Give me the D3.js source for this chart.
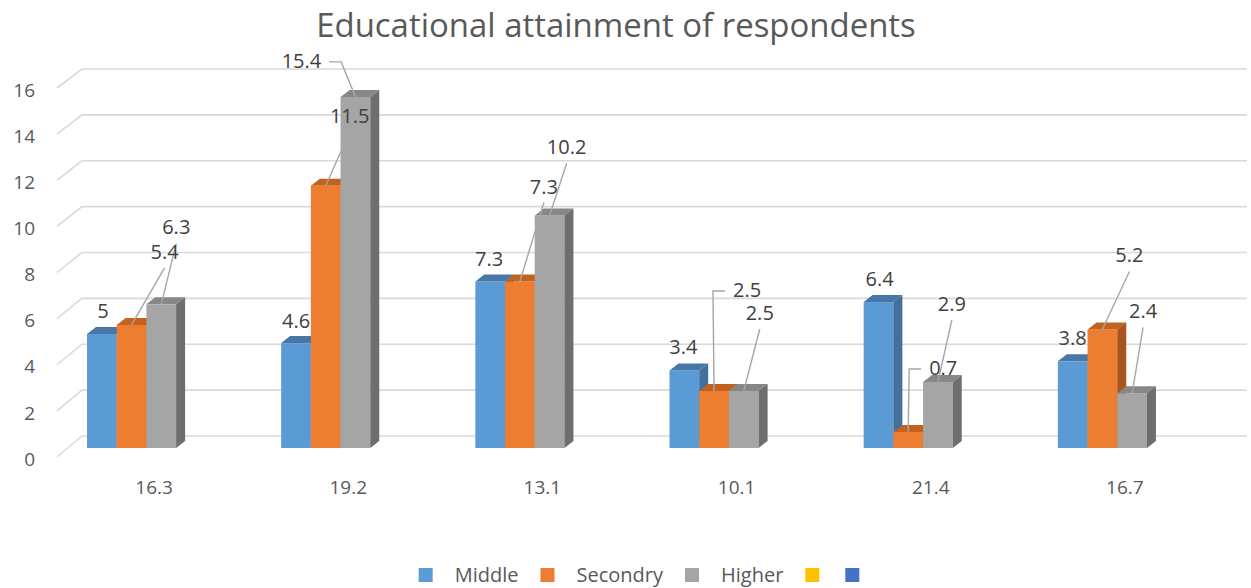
<!DOCTYPE html>
<html>
<head>
<meta charset="utf-8">
<script src="https://cdn.jsdelivr.net/npm/d3@7"></script>
<style>
  html, body { margin: 0; padding: 0; background: #ffffff; }
  svg { display: block; }
  text { font-family: "Open Sans", "Noto Sans", sans-serif; }
</style>
</head>
<body>
<svg id="chart" width="1251" height="588"></svg>
<script>
// ---- data ----
const categories = ["16.3", "19.2", "13.1", "10.1", "21.4", "16.7"];
const middle    = [5, 4.6, 7.3, 3.4, 6.4, 3.8];
const secondry  = [5.4, 11.5, 7.3, 2.5, 0.7, 5.2];
const higher    = [6.3, 15.4, 10.2, 2.5, 2.9, 2.4];
const yTicks    = [0, 2, 4, 6, 8, 10, 12, 14, 16];
const seriesNames = ["Middle", "Secondry", "Higher"];
const legendNames = ["Middle", "Secondry", "Higher", "", ""];
const titleText = "Educational attainment of respondents";

// ---- styling ----
const palette = {
  Middle:   { front: "#5b9bd5", top: "#4677a7", side: "#41719c" },
  Secondry: { front: "#ed7d31", top: "#c2621f", side: "#a8541c" },
  Higher:   { front: "#a5a5a5", top: "#878787", side: "#6e6e6e" }
};
const legendColors = ["#5b9bd5", "#ed7d31", "#a5a5a5", "#ffc000", "#4472c4"];

// label placement per series / category: offset from the bar's top-front centre
// and the kind of leader line connecting them
const labelLayout = {
  Middle: [
    { dx: 1, dy: -23, leader: "none" }, { dx: 0, dy: -22, leader: "none" },
    { dx: -1, dy: -23, leader: "none" }, { dx: -1, dy: -23, leader: "none" },
    { dx: 1, dy: -23, leader: "none" }, { dx: 0, dy: -23, leader: "none" }
  ],
  Secondry: [
    { dx: 33, dy: -73, leader: "line" }, { dx: 24, dy: -70, leader: "line" },
    { dx: 24, dy: -95, leader: "line" }, { dx: 33, dy: -101, leader: "elbow" },
    { dx: 35, dy: -64, leader: "elbow" }, { dx: 27, dy: -74, leader: "line" }
  ],
  Higher: [
    { dx: 15, dy: -77, leader: "line" }, { dx: -54, dy: -36, leader: "elbow" },
    { dx: 17, dy: -68, leader: "line" }, { dx: 16, dy: -78, leader: "line" },
    { dx: 14, dy: -78, leader: "line" }, { dx: 11, dy: -82, leader: "line" }
  ]
};

const seriesData = { Middle: middle, Secondry: secondry, Higher: higher };

const svg = d3.select("#chart");

// ---- scales ----
// category bands along the front edge of the floor
const x = d3.scaleBand().domain(categories).range([57, 1222]).paddingInner(0).paddingOuter(0);
// series inside a category
const xs = d3.scaleBand().domain(seriesNames).range([30, 30 + 3 * 29.7]).padding(0);
// value scales: bar plane, back wall, front edge of the side wall
const yBar   = d3.scaleLinear().domain([0, 16]).range([448, 83.2]);
const yBack  = d3.scaleLinear().domain([0, 16]).range([436, 69]);
const yFront = d3.scaleLinear().domain([0, 16]).range([457, 88]);

const wallLeftFront = 57, wallLeftBack = 82, wallRight = 1247;
const depthX = 9, depthY = 7;

// ---- gridlines (side wall + back wall) ----
const grid = svg.append("g").attr("class", "grid")
  .attr("stroke", "#d9d9d9").attr("stroke-width", 1.6).attr("fill", "none");
grid.selectAll("path").data(yTicks).join("path")
  .attr("d", v => `M${wallLeftFront},${yFront(v)}L${wallLeftBack},${yBack(v)}L${wallRight},${yBack(v)}`);

// ---- y tick labels ----
svg.append("g").selectAll("text").data(yTicks).join("text")
  .attr("x", 35).attr("y", v => yFront(v) + 2)
  .attr("dy", "0.35em")
  .attr("text-anchor", "end")
  .attr("font-size", 19)
  .attr("fill", "#595959")
  .text(v => v);

// ---- bars ----
const bars = svg.append("g").attr("class", "bars");
categories.forEach((cat, ci) => {
  seriesNames.forEach(s => {
    const v = seriesData[s][ci];
    const x0 = x(cat) + xs(s);
    const w = xs.bandwidth();
    const y0 = yBar(0), y1 = yBar(v);
    const c = palette[s];
    const g = bars.append("g");
    // front face
    g.append("rect").attr("x", x0).attr("y", y1).attr("width", w).attr("height", y0 - y1)
      .attr("fill", c.front);
    // top face
    g.append("path")
      .attr("d", `M${x0},${y1}L${x0 + w},${y1}L${x0 + w + depthX},${y1 - depthY}L${x0 + depthX},${y1 - depthY}Z`)
      .attr("fill", c.top);
    // side face
    g.append("path")
      .attr("d", `M${x0 + w},${y1}L${x0 + w + depthX},${y1 - depthY}L${x0 + w + depthX},${y0 - depthY}L${x0 + w},${y0}Z`)
      .attr("fill", c.side);
  });
});

// ---- category labels ----
svg.append("g").selectAll("text").data(categories).join("text")
  .attr("x", d => x(d) + x.bandwidth() / 2)
  .attr("y", 487).attr("dy", "0.35em")
  .attr("text-anchor", "middle")
  .attr("font-size", 19)
  .attr("fill", "#595959")
  .text(d => d);

// ---- data labels and leader lines ----
const labelsG = svg.append("g").attr("class", "labels");
const leadersG = labelsG.append("g").attr("stroke", "#a6a6a6").attr("stroke-width", 1.4).attr("fill", "none");
seriesNames.forEach(s => {
  categories.forEach((cat, ci) => {
    const v = seriesData[s][ci];
    const ax = x(cat) + xs(s) + xs.bandwidth() / 2;
    const ay = yBar(v);
    const L = labelLayout[s][ci];
    const lx = ax + L.dx, ly = ay + L.dy;
    const t = labelsG.append("text")
      .attr("x", lx).attr("y", ly).attr("dy", "0.35em")
      .attr("text-anchor", "middle")
      .attr("font-size", 20)
      .attr("fill", "#404040")
      .text(v);
    const half = t.node().getComputedTextLength() / 2;
    if (L.leader === "line") {
      leadersG.append("path").attr("d", `M${lx},${ly + 16}L${ax},${ay}`);
    } else if (L.leader === "elbow") {
      const side = ax < lx ? -1 : 1;
      const sx = lx + side * (half + 8);
      const ex = sx + side * 12;
      leadersG.append("path").attr("d", `M${sx},${ly + 1}L${ex},${ly + 1}L${ax},${ay}`);
    }
  });
});

// ---- title ----
const title = svg.append("text")
  .attr("x", 616).attr("y", 37)
  .attr("text-anchor", "middle")
  .attr("font-size", 30)
  .attr("fill", "#595959")
  .text(titleText);
const tw = title.node().getComputedTextLength();
title.attr("font-size", 30 * 600 / tw);

// ---- legend ----
const legend = svg.append("g").attr("class", "legend");
let cursor = 0;
legendNames.forEach((name, i) => {
  const g = legend.append("g");
  g.append("rect").attr("x", cursor).attr("y", 568).attr("width", 14).attr("height", 14)
    .attr("fill", legendColors[i]);
  if (name) {
    const t = g.append("text").attr("x", cursor + 36).attr("y", 575).attr("dy", "0.35em")
      .attr("font-size", 20).attr("fill", "#595959").text(name);
    cursor += 36 + t.node().getComputedTextLength() + 22;
  } else {
    cursor += 14 + 26;
  }
});
const legendWidth = cursor - 26;
legend.attr("transform", `translate(${639 - legendWidth / 2},0)`);
</script>
</body>
</html>
